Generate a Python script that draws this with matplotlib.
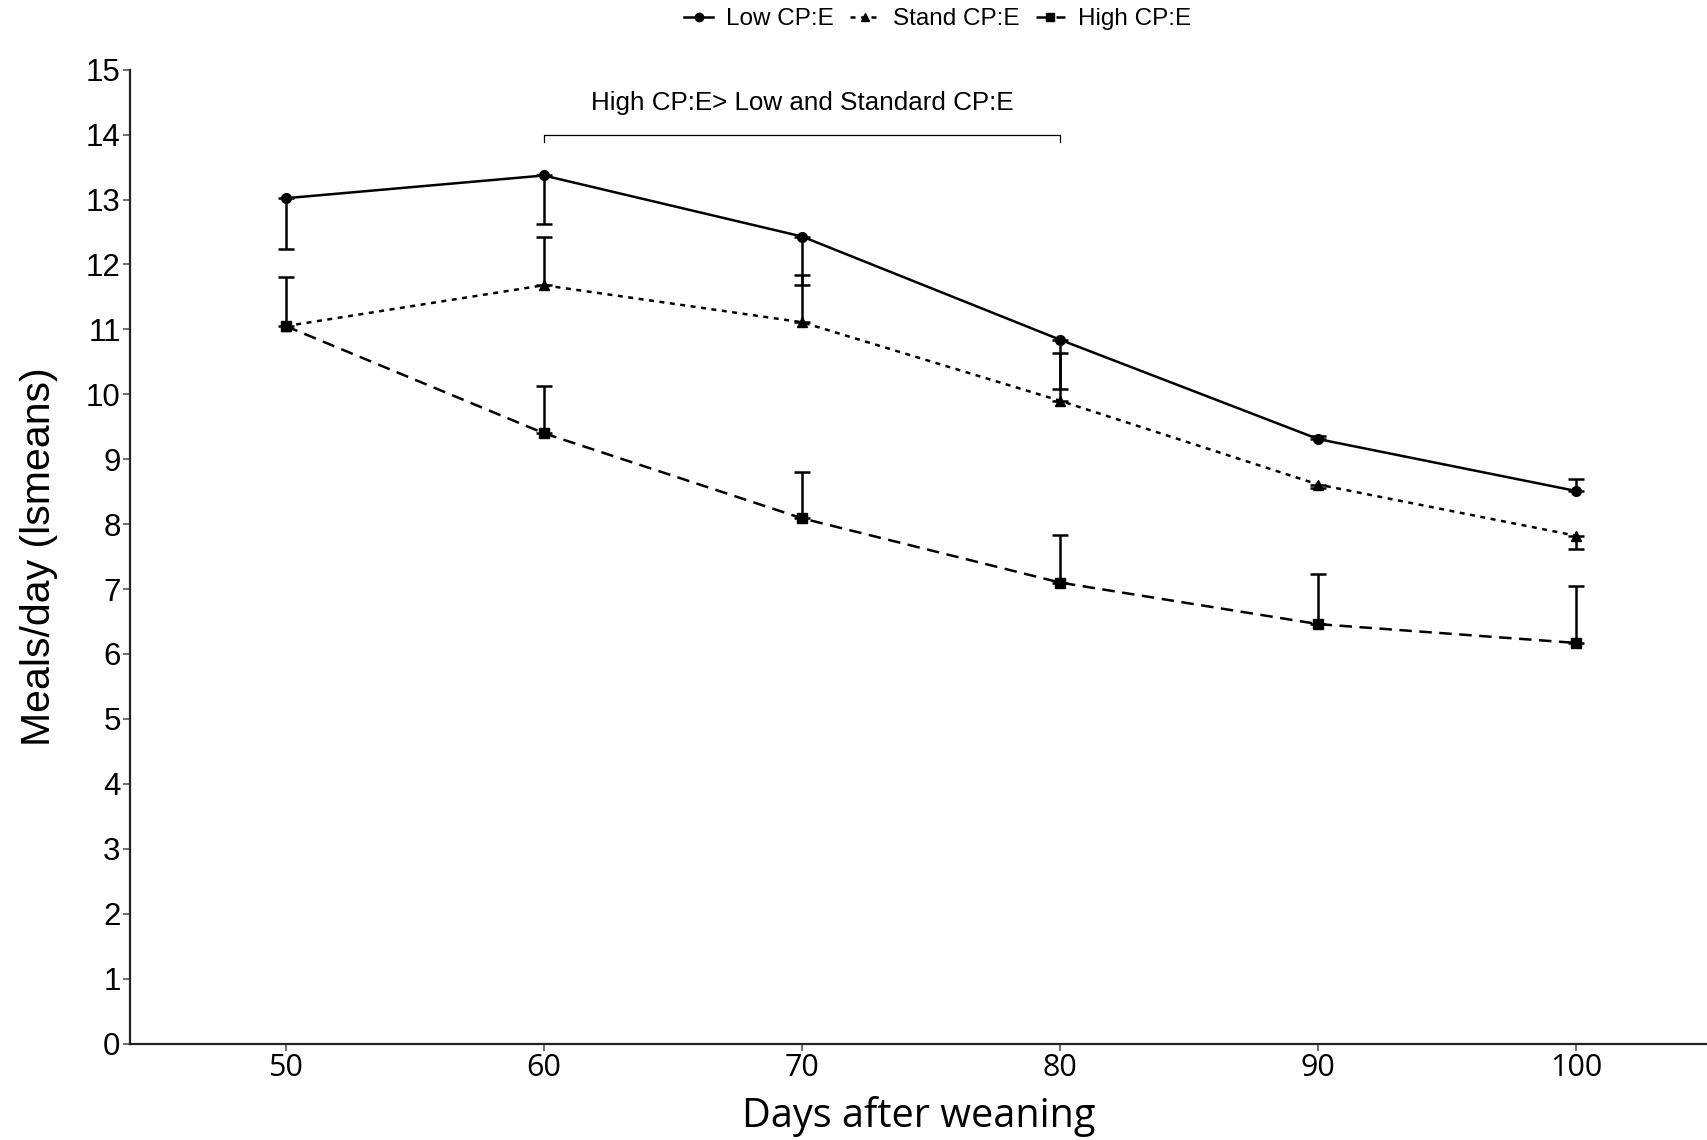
import matplotlib
matplotlib.use("Agg")
import matplotlib.pyplot as plt
from matplotlib.lines import Line2D

days = [50, 60, 70, 80, 90, 100]

low_mean = [13.02, 13.37, 12.43, 10.84, 9.31, 8.51]
low_err_lo = [0.78, 0.75, 0.75, 0.76, 0.0, 0.0]
low_err_hi = [0.0, 0.0, 0.0, 0.0, 0.05, 0.18]

stand_mean = [11.05, 11.68, 11.11, 9.90, 8.61, 7.82]
stand_err_lo = [0.0, 0.0, 0.0, 0.0, 0.05, 0.20]
stand_err_hi = [0.76, 0.74, 0.72, 0.74, 0.0, 0.0]

high_mean = [11.05, 9.40, 8.09, 7.10, 6.46, 6.17]
high_err_lo = [0.0, 0.0, 0.0, 0.0, 0.0, 0.0]
high_err_hi = [0.0, 0.73, 0.72, 0.74, 0.77, 0.88]

series_labels = ["Low CP:E", "Stand CP:E", "High CP:E"]
annotation = "High CP:E> Low and Standard CP:E"
bracket_x = [60, 80]
bracket_y = 14.0

fig = plt.figure(figsize=(17.08, 11.4), dpi=100)
ax = fig.add_axes([0.0759, 0.0846, 0.9241, 0.8543])

arial = "Liberation Sans"
segoe = "Open Sans"
lw = 1.8

styles = [
    dict(ls="-", marker="o", ms=7),
    dict(ls=(0, (2, 2.2)), marker="^", ms=7),
    dict(ls=(0, (5, 3)), marker="s", ms=6.5),
]
data = [
    (low_mean, low_err_lo, low_err_hi),
    (stand_mean, stand_err_lo, stand_err_hi),
    (high_mean, high_err_lo, high_err_hi),
]
for (m, lo, hi), st in zip(data, styles):
    ax.plot(days, m, color="black", lw=lw, ls=st["ls"], marker=st["marker"],
            ms=st["ms"], zorder=3)
    for x, y, l, h in zip(days, m, lo, hi):
        if l > 0 or h > 0:
            ax.errorbar([x], [y], yerr=[[l], [h]], fmt="none", ecolor="black",
                        elinewidth=lw, capsize=6, capthick=lw, zorder=2)

# bracket annotation
ax.plot([bracket_x[0], bracket_x[0], bracket_x[1], bracket_x[1]],
        [bracket_y - 0.12, bracket_y, bracket_y, bracket_y - 0.12],
        color="black", lw=0.9)
ax.text(sum(bracket_x) / 2, bracket_y + 0.48, annotation, ha="center", va="center",
        fontsize=18.7, family=arial)

ax.set_xlim(43.95, 105.1)
ax.set_ylim(0, 15)
ax.set_xticks(days)
ax.set_yticks(range(0, 16))
for s in ["top", "right"]:
    ax.spines[s].set_visible(False)
for s in ["left", "bottom"]:
    ax.spines[s].set_color("#222222")
    ax.spines[s].set_linewidth(1.6)
ax.tick_params(axis="both", length=5, width=1.2, color="#555555")
for lab in ax.get_yticklabels():
    lab.set_fontfamily(arial)
    lab.set_fontsize(22.5)
for lab in ax.get_xticklabels():
    lab.set_fontfamily(segoe)
    lab.set_fontsize(22)
ax.tick_params(axis="x", pad=2)
ax.tick_params(axis="y", pad=1.5)

ax.set_ylabel("Meals/day (lsmeans)", fontsize=29.5, family=arial, labelpad=20)
ax.set_xlabel("Days after weaning", fontsize=28.5, family=segoe, labelpad=9)

handles = [Line2D([], [], color="black", lw=lw, ls=st["ls"], marker=st["marker"],
                  ms=st["ms"] - 1) for st in styles]
fig.legend(handles, series_labels, loc="center", bbox_to_anchor=(0.549, 0.983),
           ncol=3, frameon=False, prop={"family": arial, "size": 17.5},
           handlelength=1.2, handletextpad=0.55, columnspacing=0.67)

fig.savefig("out.png", dpi=100, facecolor="white")
